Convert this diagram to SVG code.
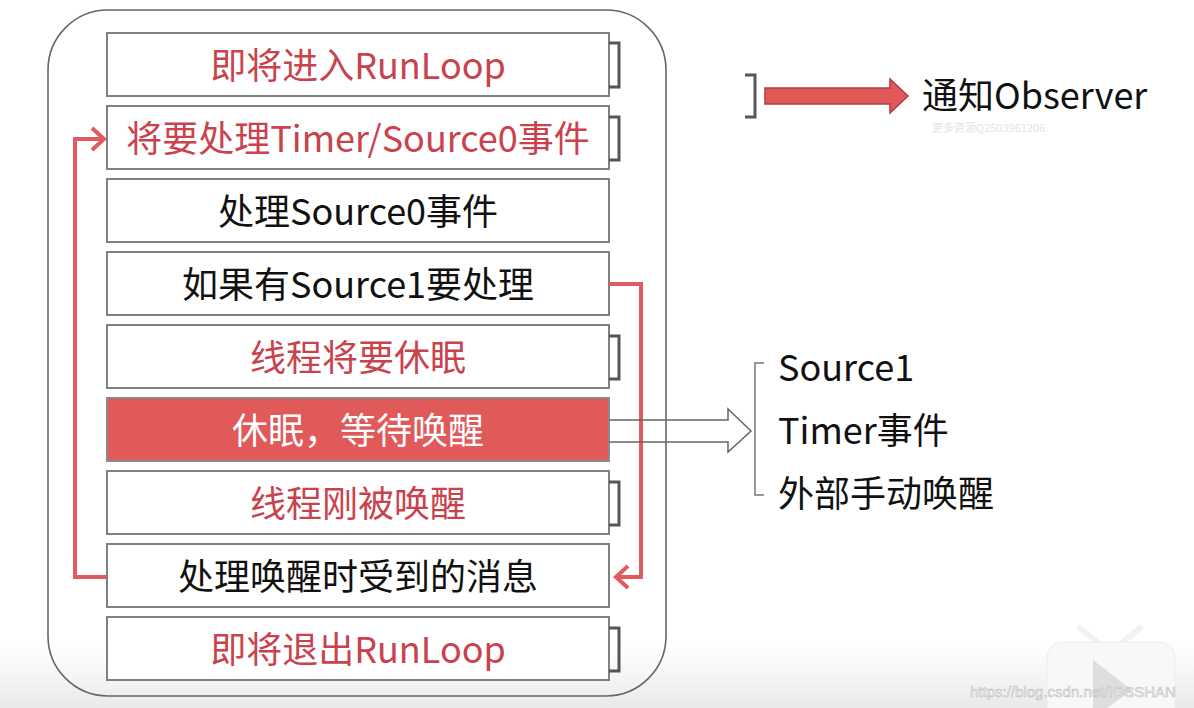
<svg xmlns="http://www.w3.org/2000/svg" width="1194" height="708" viewBox="0 0 1194 708">
<defs>
<style>
.box{fill:#fff;stroke:#808080;stroke-width:2}
.hot{fill:#e05a5a;stroke:#8a8a8a;stroke-width:2}
.t{font-family:"Noto Sans CJK SC","Noto Sans",sans-serif;font-size:36px;text-anchor:middle}
.red{fill:#c9424c}
.blk{fill:#111}
.wht{fill:#fff}
.brk{fill:none;stroke:#555;stroke-width:3}
.loop{fill:none;stroke:#e05a5f;stroke-width:4}
.side{font-family:"Noto Sans CJK SC","Noto Sans",sans-serif;font-size:36px;fill:#111}
</style>
<linearGradient id="bot" x1="0" y1="0" x2="0" y2="1">
<stop offset="0" stop-color="#eeeeee" stop-opacity="0"/>
<stop offset="1" stop-color="#e6e6e6" stop-opacity="0.9"/>
</linearGradient>
</defs>
<rect width="1194" height="708" fill="#fff"/>
<rect x="0" y="640" width="1194" height="68" fill="url(#bot)"/>

<g id="frame"><rect x="48" y="10" width="618" height="686" rx="60" fill="none" stroke="#666" stroke-width="1.6"/></g>

<g id="n1"><rect class="box" x="107" y="33" width="502" height="63"/><path class="brk" d="M609,43H619V87H609"/><text class="t red" x="358" y="79">即将进入RunLoop</text></g>
<g id="n2"><rect class="box" x="107" y="106" width="502" height="63"/><path class="brk" d="M609,117H619V160H609"/><text class="t red" x="358" y="152">将要处理Timer/Source0事件</text></g>
<g id="n3"><rect class="box" x="107" y="179" width="502" height="63"/><text class="t blk" x="358" y="225">处理Source0事件</text></g>
<g id="n4"><rect class="box" x="107" y="252" width="502" height="63"/><text class="t blk" x="358" y="298">如果有Source1要处理</text></g>
<g id="n5"><rect class="box" x="107" y="325" width="502" height="63"/><path class="brk" d="M609,336H619V379H609"/><text class="t red" x="358" y="371">线程将要休眠</text></g>
<g id="n6"><rect class="hot" x="107" y="398" width="502" height="63"/><text class="t wht" x="358" y="444">休眠，等待唤醒</text></g>
<g id="n7"><rect class="box" x="107" y="471" width="502" height="63"/><path class="brk" d="M609,482H619V525H609"/><text class="t red" x="358" y="517">线程刚被唤醒</text></g>
<g id="n8"><rect class="box" x="107" y="544" width="502" height="63"/><text class="t blk" x="358" y="590">处理唤醒时受到的消息</text></g>
<g id="n9"><rect class="box" x="107" y="617" width="502" height="63"/><path class="brk" d="M609,628H619V671H609"/><text class="t red" x="358" y="663">即将退出RunLoop</text></g>

<g id="connectors">
<path class="loop" d="M107,577H75V139H103"/>
<path class="loop" d="M92,128L104,139L92,150"/>
<path class="loop" d="M609,284H641V577H616"/>
<path class="loop" d="M628,566L616,577L628,588"/>
<path d="M609,420H728V409L751,431L728,452V442H609" fill="none" stroke="#666" stroke-width="1.5"/>
<path d="M765,88H890V79L908,96L890,113V104H765Z" fill="#e05a5a" stroke="#b03c40" stroke-width="1.5"/>
</g>

<g id="observer"><path class="brk" d="M745,75H755V117H745"/><text class="side" x="922" y="109">通知Observer</text></g>
<g id="wake"><path d="M764,363H755V495H764" fill="none" stroke="#777" stroke-width="1.5"/>
<text class="side" x="778" y="381">Source1</text>
<text class="side" x="778" y="444">Timer事件</text>
<text class="side" x="778" y="507">外部手动唤醒</text></g>

<g id="watermarks">
<text x="932" y="132" font-family="Noto Sans CJK SC,sans-serif" font-size="11" fill="#e4e4e4">更多资源Q2503961206</text>
<path d="M1080,628L1098,643M1140,628L1122,643" stroke="#f2f2f2" stroke-width="6" stroke-linecap="round"/>
<rect x="1047" y="642" width="128" height="90" rx="16" fill="#f8f8f8" stroke="#ececec"/>
<path d="M1093,660L1132,690L1093,718Z" fill="#dedede"/>
<text x="970" y="697" font-family="Liberation Sans,sans-serif" font-size="15" fill="#f2f2f2" stroke="#b8b8b8" stroke-width="0.5">https://blog.csdn.net/IOSSHAN</text>
</g>
</svg>
